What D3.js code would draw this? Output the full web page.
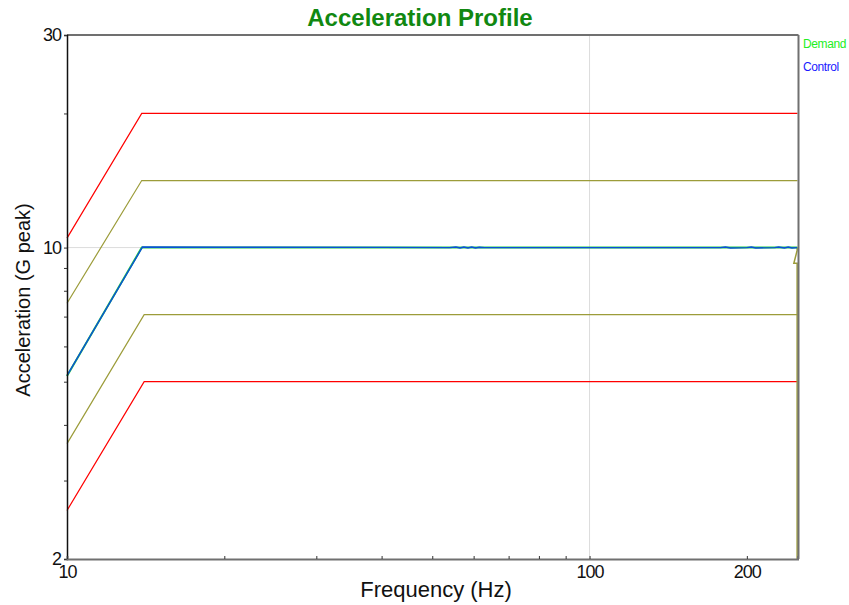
<!DOCTYPE html>
<html>
<head>
<meta charset="utf-8">
<script src="https://cdn.jsdelivr.net/npm/d3@7"></script>
<style>
  body { margin: 0; background: #fff; }
  text { font-family: "Liberation Sans", Arial, sans-serif; }
</style>
</head>
<body>
<div id="chart"></div>
<script>
// profile breakpoints (Hz / G peak)
var abortHigh = [[10, 10.5], [13.9, 20], [250, 20]];
var alarmHigh = [[10, 7.5], [13.9, 14.14], [250, 14.14]];
var demand = [[10, 5.15], [13.9, 10], [250, 10]];
var alarmLow = [[10, 3.63], [14.05, 7.07], [250, 7.07]];
var abortLow = [[10, 2.57], [14.05, 5], [250, 5]];
// control trace, follows demand with a bit of noise
var controlFreq = [10, 13.95, 20, 40, 54, 55.5, 56.5, 57.5, 58.5, 59.5, 60.5, 61.5, 63, 80, 150, 178, 182, 186, 200, 204, 208, 226, 230, 236, 240, 244, 249.5];
var controlVal = [5.16, 10.03, 10.02, 10.01, 10.0, 10.03, 9.98, 10.03, 9.98, 10.03, 9.98, 10.02, 10.0, 10.0, 10.0, 10.0, 10.03, 9.98, 10.0, 10.03, 9.98, 10.0, 10.03, 9.98, 10.03, 9.98, 10.0];
// odd little tail at the end of the band
var tailFreq = [249.6, 249.6, 246, 249.6, 249.6];
var tailVal = [10, 9.85, 9.22, 9.22, 2];

var yTicksMajor = [2, 10, 30];
var yTicksMinor = [3, 4, 5, 6, 7, 8, 9, 20];
var xTicksMajor = [10, 100, 200];
var xTicksMinor = [20, 30, 40, 50, 60, 70, 80, 90];

var W = 849, H = 605;
var plotLeft = 67, plotRight = 797.5, plotTop = 35, plotBottom = 559;

var svg = d3.select('#chart').append('svg')
    .attr('width', W)
    .attr('height', H);

var x = d3.scaleLog().domain([10, 250]).range([plotLeft, plotRight]);
var y = d3.scaleLog().domain([2, 30]).range([plotBottom, plotTop]);

// grid
svg.append('line')
    .attr('x1', plotLeft).attr('x2', plotRight)
    .attr('y1', y(10)).attr('y2', y(10))
    .attr('stroke', '#dcdcdc').attr('stroke-width', 1);
svg.append('line')
    .attr('x1', x(100)).attr('x2', x(100))
    .attr('y1', plotTop).attr('y2', plotBottom)
    .attr('stroke', '#dcdcdc').attr('stroke-width', 1);

var line = d3.line()
    .x(function (d) { return x(d[0]); })
    .y(function (d) { return y(d[1]); });

var drawLine = function (data, colour, width) {
    svg.append('path')
        .datum(data)
        .attr('d', line)
        .attr('fill', 'none')
        .attr('stroke', colour)
        .attr('stroke-width', width);
};

drawLine(abortHigh, '#ff0000', 1.2);
drawLine(abortLow, '#ff0000', 1.2);
drawLine(alarmHigh, '#9c9c3a', 1.2);
drawLine(alarmLow, '#9c9c3a', 1.2);
drawLine(d3.zip(tailFreq, tailVal), '#9c9c3a', 1.5);
drawLine(demand, '#22cc44', 2);
drawLine(d3.zip(controlFreq, controlVal), '#0a4fd8', 1.4);

// frame
svg.append('line')
    .attr('x1', plotLeft).attr('x2', plotRight + 1)
    .attr('y1', plotTop).attr('y2', plotTop)
    .attr('stroke', '#707070').attr('stroke-width', 2);
svg.append('line')
    .attr('x1', plotRight + 1).attr('x2', plotRight + 1)
    .attr('y1', plotTop).attr('y2', plotBottom)
    .attr('stroke', '#707070').attr('stroke-width', 2);

var yAxis = d3.axisLeft(y)
    .tickValues(yTicksMajor.concat(yTicksMinor))
    .tickSize(3)
    .tickPadding(3)
    .tickFormat(function (d) { return yTicksMajor.indexOf(d) >= 0 ? d : ''; });
var gy = svg.append('g')
    .attr('transform', 'translate(' + plotLeft + ',0)')
    .call(yAxis);
gy.select('.domain').attr('stroke', '#111').attr('stroke-width', 1.5);
gy.selectAll('.tick line').attr('stroke', '#333');
gy.selectAll('.tick text')
    .attr('font-size', 18)
    .attr('fill', '#111')
    .attr('font-family', '"Liberation Sans", Arial, sans-serif')
    .attr('letter-spacing', '-1px');

var xAxis = d3.axisBottom(x)
    .tickValues(xTicksMajor.concat(xTicksMinor))
    .tickSize(-3)
    .tickPadding(6)
    .tickFormat(function (d) { return xTicksMajor.indexOf(d) >= 0 ? d : ''; });
var gx = svg.append('g')
    .attr('transform', 'translate(0,' + plotBottom + ')')
    .call(xAxis);
gx.select('.domain').attr('stroke', '#707070').attr('stroke-width', 2);
gx.selectAll('.tick line').attr('stroke', '#333');
gx.selectAll('.tick text')
    .attr('font-size', 18)
    .attr('fill', '#111')
    .attr('font-family', '"Liberation Sans", Arial, sans-serif')
    .attr('letter-spacing', '-1px');

// title + labels
svg.append('text')
    .attr('x', 420).attr('y', 26)
    .attr('text-anchor', 'middle')
    .attr('font-size', 24)
    .attr('font-weight', 'bold')
    .attr('fill', '#118811')
    .text('Acceleration Profile');

svg.append('text')
    .attr('x', 436).attr('y', 597)
    .attr('text-anchor', 'middle')
    .attr('font-size', 22)
    .attr('fill', '#111')
    .text('Frequency (Hz)');

svg.append('text')
    .attr('transform', 'translate(30,' + 300 + ') rotate(-90)')
    .attr('text-anchor', 'middle')
    .attr('font-size', 20)
    .attr('fill', '#111')
    .text('Acceleration (G peak)');

// legend
svg.append('text')
    .attr('x', 803).attr('y', 48)
    .attr('font-size', 12)
    .attr('letter-spacing', '-0.4px')
    .attr('fill', '#22ee22')
    .text('Demand');
svg.append('text')
    .attr('x', 803).attr('y', 71)
    .attr('font-size', 12)
    .attr('letter-spacing', '-0.4px')
    .attr('fill', '#1a1aff')
    .text('Control');
</script>
</body>
</html>
